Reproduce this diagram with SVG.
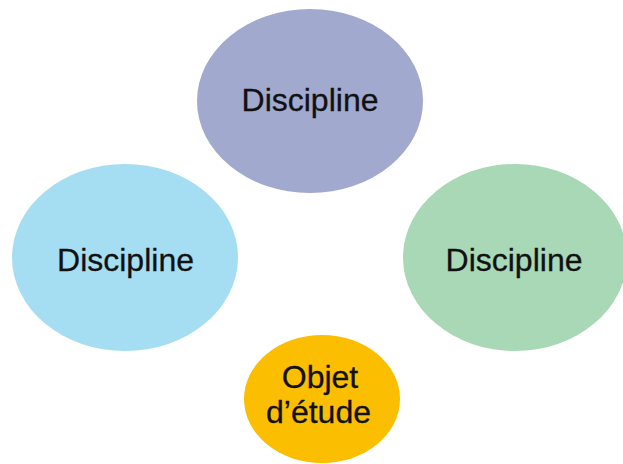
<svg xmlns="http://www.w3.org/2000/svg" width="623" height="464" viewBox="0 0 623 464">
<style>
text{font-family:"Liberation Sans",Arial,sans-serif;font-size:32px;fill:#111;stroke:#111;stroke-width:0.3;text-anchor:middle}
</style>
<rect width="623" height="464" fill="#fff"/>
<g id="top"><ellipse cx="310" cy="101" rx="113" ry="92" fill="#a1a9cf"/><text x="310" y="111">Discipline</text></g>
<g id="left"><ellipse cx="125" cy="257.5" rx="113" ry="93.5" fill="#a5ddf2"/><text x="125.5" y="270.5">Discipline</text></g>
<g id="right"><ellipse cx="515" cy="257.5" rx="112" ry="93.5" fill="#a8d8b6"/><text x="514" y="270.5">Discipline</text></g>
<g id="bottom"><ellipse cx="322" cy="399" rx="78" ry="64" fill="#fbbe00"/><text x="320" y="388">Objet</text><text x="318.5" y="422.5">d’étude</text></g>
<g id="connectors"/>
</svg>
